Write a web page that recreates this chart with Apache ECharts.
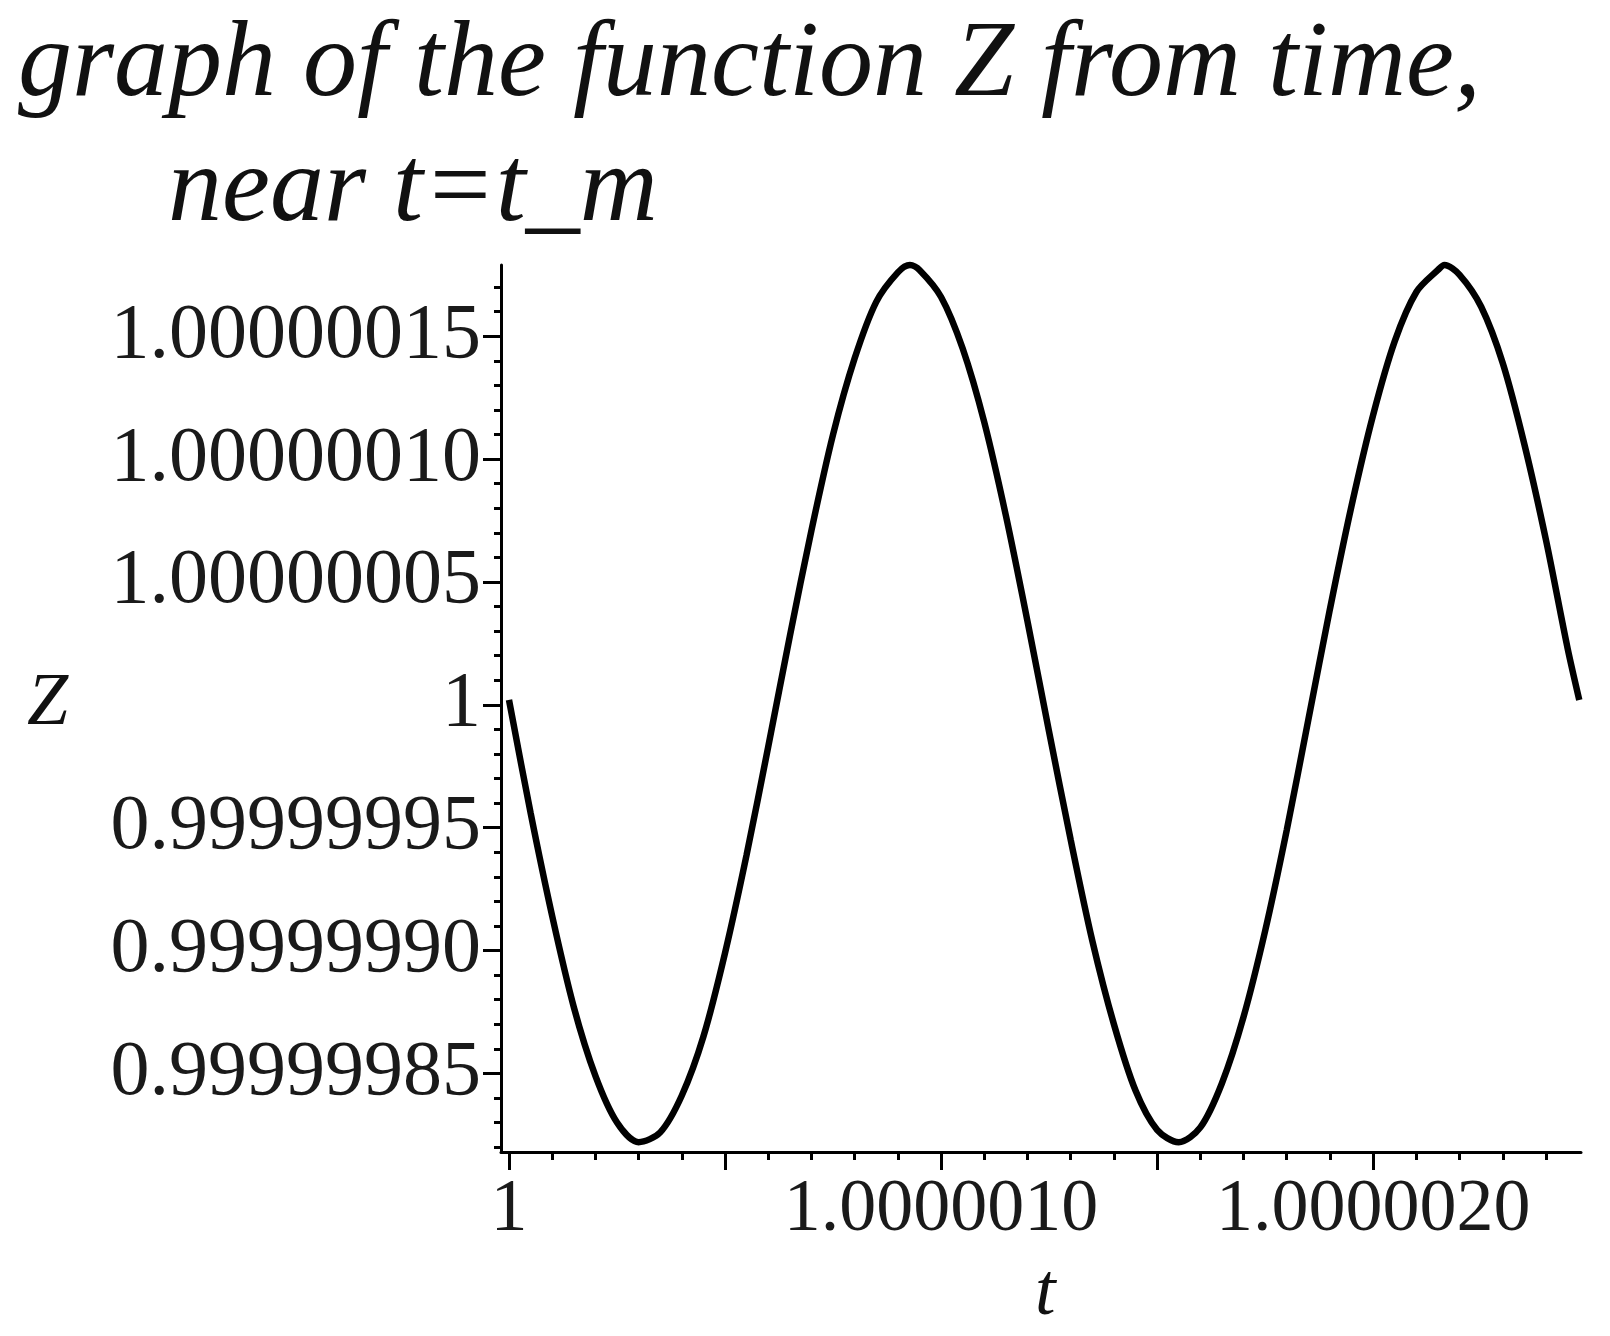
<!DOCTYPE html>
<html>
<head>
<meta charset="utf-8">
<title>graph of the function Z from time</title>
<script src="https://cdn.jsdelivr.net/npm/echarts@6/dist/echarts.min.js"></script>
<style>
  html, body { margin: 0; padding: 0; background: #ffffff; }
  #chart { width: 1610px; height: 1336px; }
</style>
</head>
<body>
<div id="chart"></div>
<script>
// t - 1, in units of 1e-6
const tMicro = [
  0, 0.05, 0.10, 0.15, 0.20, 0.25, 0.30, 0.35, 0.40, 0.45,
  0.50, 0.55, 0.60, 0.65, 0.70, 0.75, 0.80, 0.85, 0.90, 0.928, 0.95,
  1.00, 1.05, 1.10, 1.15, 1.20, 1.25, 1.30, 1.35, 1.40, 1.45,
  1.50, 1.55, 1.60, 1.65, 1.70, 1.75, 1.80, 1.85, 1.90, 1.95,
  2.00, 2.05, 2.10, 2.15, 2.165, 2.20, 2.25, 2.30, 2.35, 2.40, 2.45, 2.477
];
// Z - 1, in units of 1e-8
const zDev = [
  0.2, -4.4, -8.6, -12.3, -15.1, -17.0, -17.8, -17.4, -15.9, -13.5,
  -10.1, -6.1, -1.7, 2.8, 7.1, 11.0, 14.1, 16.4, 17.6, 17.9, 17.7,
  16.6, 14.5, 11.5, 7.7, 3.4, -1.1, -5.5, -9.6, -13.0, -15.7,
  -17.3, -17.8, -17.2, -15.4, -12.7, -9.2, -5.1, -0.6, 3.9, 8.1,
  11.8, 14.8, 16.8, 17.7, 17.9, 17.5, 16.2, 13.9, 10.6, 6.7, 2.3, 0.2
];

// axis ticks and labels
const xMajorTicks = [0, 0.5, 1, 1.5, 2];
const xLabelTicks = [0, 1, 2];
const xLabelTexts = ['1', '1.0000010', '1.0000020'];
const xMinorTicks = [0, 0.1, 0.2, 0.3, 0.4, 0.5, 0.6, 0.7, 0.8, 0.9, 1.0, 1.1, 1.2,
                     1.3, 1.4, 1.5, 1.6, 1.7, 1.8, 1.9, 2.0, 2.1, 2.2, 2.3, 2.4];
const yMajorTicks = [-15, -10, -5, 0, 5, 10, 15];
const yLabelTexts = ['0.99999985', '0.99999990', '0.99999995', '1',
                     '1.00000005', '1.00000010', '1.00000015'];
const yMinorTicks = [-18, -17, -16, -15, -14, -13, -12, -11, -10, -9, -8, -7, -6, -5, -4, -3, -2, -1,
                     0, 1, 2, 3, 4, 5, 6, 7, 8, 9, 10, 11, 12, 13, 14, 15, 16, 17];

const xMin = -0.0185, xMax = 2.481;
const yMin = -18.2, yMax = 17.9;

const titleLine1 = 'graph of the function Z from time,';
const titleLine2 = 'near t=t_m';

const chart = echarts.init(document.getElementById('chart'), null, { renderer: 'canvas' });

const serif = '"Liberation Serif", "Times New Roman", serif';
const titleStyle = {
  fontFamily: serif, fontStyle: 'italic', fontWeight: 'normal',
  fontSize: 108, lineHeight: 108, color: '#111111'
};

function findLabel(ticks, texts, v) {
  for (let i = 0; i < ticks.length; i++) {
    if (Math.abs(ticks[i] - v) < 1e-9) return texts[i];
  }
  return '';
}

const option = {
  animation: false,
  backgroundColor: '#ffffff',
  title: [
    { text: titleLine1, left: 18, top: 13, padding: 0, textStyle: titleStyle },
    { text: titleLine2, left: 168, top: 138, padding: 0, textStyle: titleStyle }
  ],
  grid: { left: 501, right: 29, top: 265, bottom: 184, containLabel: false },
  xAxis: [
    {
      type: 'value', min: xMin, max: xMax, position: 'bottom',
      axisLine: { show: true, onZero: false, lineStyle: { color: '#000', width: 3 } },
      axisTick: { show: true, customValues: xMajorTicks, length: 18, lineStyle: { color: '#000', width: 3 } },
      axisLabel: {
        show: true, customValues: xLabelTicks, margin: 22,
        fontFamily: serif, fontSize: 74, color: '#1a1a1a',
        formatter: v => findLabel(xLabelTicks, xLabelTexts, v)
      },
      splitLine: { show: false }
    },
    {
      type: 'value', min: xMin, max: xMax, position: 'bottom', offset: 0,
      axisLine: { show: false, onZero: false },
      axisTick: { show: true, customValues: xMinorTicks, length: 8, lineStyle: { color: '#000', width: 3 } },
      axisLabel: { show: false },
      splitLine: { show: false }
    }
  ],
  yAxis: [
    {
      type: 'value', min: yMin, max: yMax, position: 'left',
      axisLine: { show: true, onZero: false, lineStyle: { color: '#000', width: 3 } },
      axisTick: { show: true, customValues: yMajorTicks, length: 18, lineStyle: { color: '#000', width: 3 } },
      axisLabel: {
        show: true, customValues: yMajorTicks, margin: 20,
        fontFamily: serif, fontSize: 78, color: '#1a1a1a',
        formatter: v => findLabel(yMajorTicks, yLabelTexts, v)
      },
      splitLine: { show: false }
    },
    {
      type: 'value', min: yMin, max: yMax, position: 'left', offset: 0,
      axisLine: { show: false, onZero: false },
      axisTick: { show: true, customValues: yMinorTicks, length: 7, lineStyle: { color: '#000', width: 3 } },
      axisLabel: { show: false },
      splitLine: { show: false }
    }
  ],
  graphic: [
    {
      type: 'text', left: 27, top: 668,
      style: { text: 'Z', font: 'italic 74px ' + serif, fill: '#111111' }
    },
    {
      type: 'text', left: 1035, top: 1258,
      style: { text: 't', font: 'italic 74px ' + serif, fill: '#111111' }
    }
  ],
  series: [
    {
      type: 'line',
      xAxisIndex: 0, yAxisIndex: 0,
      data: tMicro.map((t, i) => [t, zDev[i]]),
      smooth: 0.3,
      showSymbol: false,
      lineStyle: { color: '#000000', width: 6.5 },
      clip: false
    }
  ]
};

chart.setOption(option);
</script>
</body>
</html>
